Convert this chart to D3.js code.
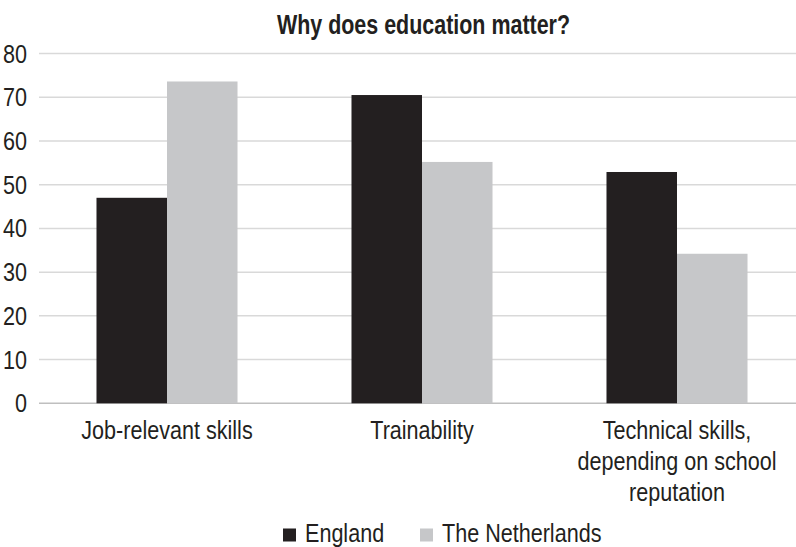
<!DOCTYPE html>
<html>
<head>
<meta charset="utf-8">
<script src="https://cdn.jsdelivr.net/npm/d3@7"></script>
<style>
  html, body { margin: 0; padding: 0; background: #fff; }
  svg { display: block; }
  text { font-family: 'Liberation Sans Narrow', 'Arial Narrow', 'Liberation Sans', sans-serif; fill: #231f20; }
</style>
</head>
<body>
<svg id="chart" width="796" height="547"></svg>
<script>
const title = "Why does education matter?";
const categories = [
  ["Job-relevant skills"],
  ["Trainability"],
  ["Technical skills,", "depending on school", "reputation"]
];
const seriesNames = ["England", "The Netherlands"];
const england = [47.0, 70.5, 52.9];
const netherlands = [73.6, 55.2, 34.2];
const yTicks = [0, 10, 20, 30, 40, 50, 60, 70, 80];
const colors = ["#231f20", "#c6c7c9"];

const svg = d3.select("#chart");
const W = 796, H = 547;
const SX = 0.83; // horizontal condensation to mimic a narrow face

function addText(parent, px, py, str, size, anchor, weight, sx) {
  return parent.append("text")
    .attr("transform", `translate(${px},${py}) scale(${sx},1)`)
    .attr("text-anchor", anchor)
    .attr("font-size", size)
    .attr("font-weight", weight || "normal")
    .text(str);
}

const catKeys = categories.map(c => c.join(" "));
const x = d3.scaleBand().domain(catKeys).range([39.5, 804.5]).paddingInner(0.447).paddingOuter(0.2235);
const xs = d3.scaleBand().domain(seriesNames).range([0, x.bandwidth()]);
const y = d3.scaleLinear().domain([0, 80]).range([403.3, 53.5]);

// gridlines
svg.append("g").selectAll("line").data(yTicks).join("line")
  .attr("x1", 39).attr("x2", W)
  .attr("y1", d => y(d)).attr("y2", d => y(d))
  .attr("stroke", d => d === 0 ? "#bfbfbf" : "#d9d9d9")
  .attr("stroke-width", 1.5);

// y labels
const gy = svg.append("g");
yTicks.forEach(t => addText(gy, 27, y(t) + 9, String(t), 26, "end", "normal", SX));

// bars
const data = catKeys.map((k, i) => ({ key: k, values: [england[i], netherlands[i]] }));
const groups = svg.append("g").selectAll("g").data(data).join("g")
  .attr("transform", d => `translate(${x(d.key)},0)`);
groups.selectAll("rect").data(d => d.values.map((v, j) => ({ v, s: seriesNames[j], j })))
  .join("rect")
  .attr("x", d => xs(d.s))
  .attr("width", xs.bandwidth())
  .attr("y", d => y(d.v))
  .attr("height", d => y(0) - y(d.v))
  .attr("fill", d => colors[d.j]);

// category labels
const gx = svg.append("g");
categories.forEach((lines, i) => {
  const cx = x(catKeys[i]) + x.bandwidth() / 2;
  lines.forEach((ln, j) => addText(gx, cx, 439 + j * 31, ln, 26, "middle", "normal", SX));
});

// title
addText(svg, 423.5, 34, title, 27.5, "middle", "bold", 0.78);

// legend
const legend = svg.append("g");
const legX = [283, 420];
seriesNames.forEach((s, i) => {
  legend.append("rect").attr("x", legX[i]).attr("y", 528.5).attr("width", 13).attr("height", 13).attr("fill", colors[i]);
  addText(legend, legX[i] + 22, 542, s, 26, "start", "normal", SX);
});
</script>
</body>
</html>
